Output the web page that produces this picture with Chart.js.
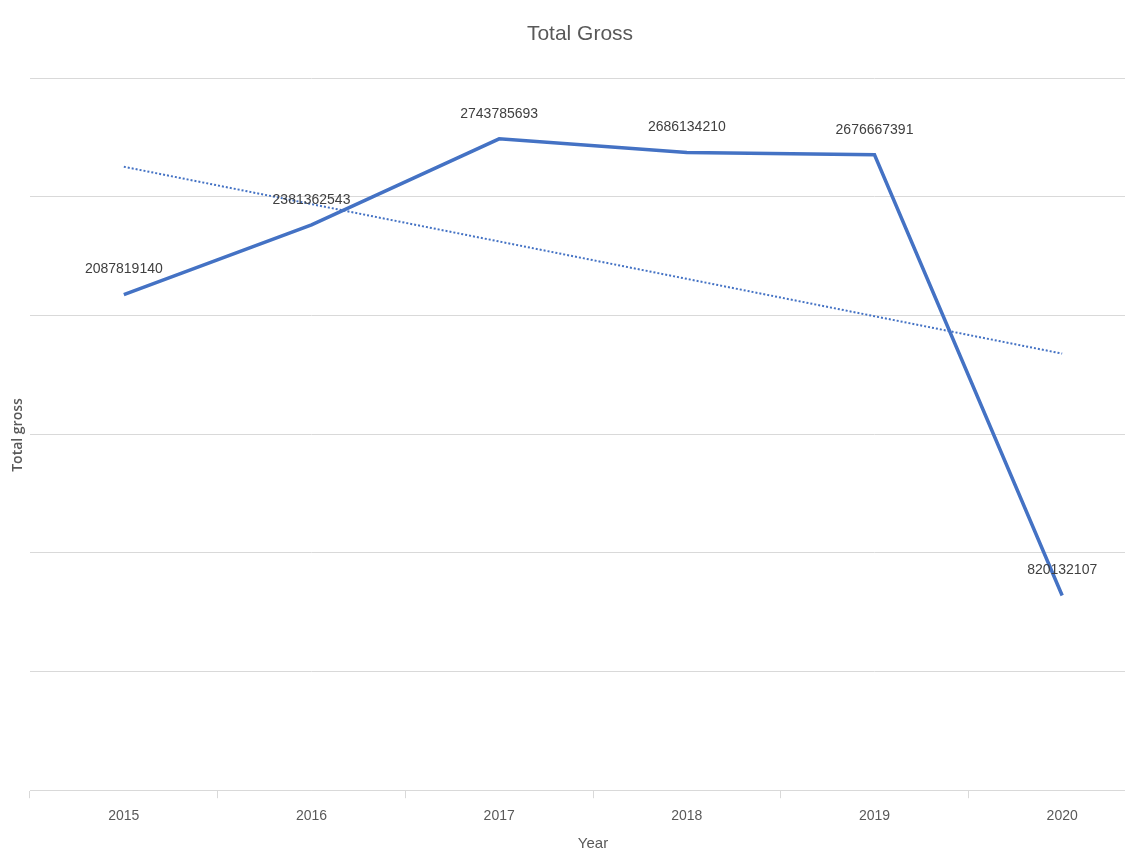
<!DOCTYPE html>
<html>
<head>
<meta charset="utf-8">
<script src="https://cdn.jsdelivr.net/npm/chart.js@4"></script>
<style>
  html, body { margin: 0; padding: 0; background: #fff; overflow: hidden; }
  #wrap { width: 1125px; height: 855px; overflow: hidden; }
</style>
</head>
<body>
<div id="wrap"><canvas id="grafico" width="1160" height="855"></canvas></div>
<script>
// dados do gráfico
const anos = ['2015', '2016', '2017', '2018', '2019', '2020'];
const totalGross = [2087819140, 2381362543, 2743785693, 2686134210, 2676667391, 820132107];

// linha de tendência linear (mínimos quadrados, como no Excel)
const n = totalGross.length;
const mediaX = (n + 1) / 2;
const mediaY = totalGross.reduce((a, b) => a + b, 0) / n;
let sxy = 0, sxx = 0;
totalGross.forEach((v, i) => {
  sxy += (i + 1 - mediaX) * (v - mediaY);
  sxx += (i + 1 - mediaX) * (i + 1 - mediaX);
});
const inclinacao = sxy / sxx;
const tendencia = totalGross.map((_, i) => mediaY + inclinacao * (i + 1 - mediaX));

const cinza = '#595959';
const narrow = '"Liberation Sans Narrow", "Liberation Sans", sans-serif';

// rótulos de valores e títulos desenhados à mão
const textos = {
  id: 'textos',
  afterDatasetsDraw(chart) {
    const ctx = chart.ctx;
    const meta = chart.getDatasetMeta(0);
    ctx.save();
    ctx.fillStyle = '#404040';
    ctx.font = '14px ' + narrow;
    ctx.textAlign = 'center';
    ctx.textBaseline = 'middle';
    meta.data.forEach((p, i) => {
      ctx.fillText(String(totalGross[i]), p.x, p.y - 25);
    });

    ctx.fillStyle = cinza;
    ctx.font = '21px ' + narrow;
    ctx.fillText('Total Gross', 580, 34);

    ctx.font = '15px ' + narrow;
    ctx.fillText('Year', 593, 844);

    ctx.font = '600 14px "Open Sans", sans-serif';
    ctx.translate(18, 435);
    ctx.rotate(-Math.PI / 2);
    ctx.fillText('Total gross', 0, 0);
    ctx.restore();
  }
};

new Chart(document.getElementById('grafico'), {
  type: 'line',
  data: {
    labels: anos,
    datasets: [{
      label: 'Total gross',
      data: totalGross,
      borderColor: '#4472c4',
      borderWidth: 3.5,
      pointRadius: 0,
      tension: 0
    }, {
      label: 'Linear (Total gross)',
      data: tendencia,
      borderColor: '#4472c4',
      borderWidth: 2,
      borderDash: [2, 2],
      pointRadius: 0,
      tension: 0
    }]
  },
  options: {
    responsive: false,
    animation: false,
    layout: { padding: { top: 78, left: 30, right: 4, bottom: 20 } },
    plugins: {
      legend: { display: false },
      tooltip: { enabled: false }
    },
    scales: {
      x: {
        offset: true,
        grid: {
          offset: true,
          drawOnChartArea: false,
          drawTicks: true,
          tickLength: 8,
          color: '#d9d9d9'
        },
        border: { color: '#d9d9d9' },
        ticks: {
          color: cinza,
          padding: 10,
          font: { family: narrow, size: 14 }
        }
      },
      y: {
        min: 0,
        max: 3000000000,
        ticks: { display: false, stepSize: 500000000 },
        grid: { color: '#d9d9d9', drawTicks: false },
        border: { display: false }
      }
    }
  },
  plugins: [textos]
});
</script>
</body>
</html>
